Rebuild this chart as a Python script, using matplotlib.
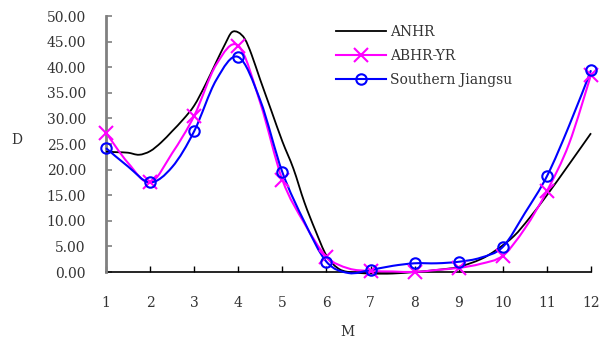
import matplotlib
matplotlib.use('Agg')
import matplotlib.pyplot as plt
from matplotlib.path import Path
from matplotlib.patches import PathPatch
from matplotlib.lines import Line2D
import numpy as np

# ---- data ----
months = [1, 2, 3, 4, 5, 6, 7, 8, 9, 10, 11, 12]
month_labels = [str(m) for m in months]
y_ticks = [0, 5, 10, 15, 20, 25, 30, 35, 40, 45, 50]

anhr_x = [1.0, 1.25, 1.5, 1.75, 2.0, 2.25, 2.5, 2.75, 3.0, 3.25, 3.5, 3.7, 3.85,
          4.0, 4.15, 4.3, 4.5, 4.75, 5.0, 5.25, 5.5, 5.75, 6.0, 6.25, 6.5, 7.0,
          7.5, 8.0, 8.5, 9.0, 9.5, 9.85, 10.25, 10.6, 11.0, 11.5, 12.0]
anhr_y = [23.5, 23.4, 23.3, 22.9, 23.6, 25.3, 27.5, 29.8, 32.5, 36.5, 41.0, 44.5, 46.8,
          46.8, 45.5, 42.5, 37.5, 31.5, 25.5, 20.2, 13.6, 8.1, 3.2, 0.8, 0.0, -0.3,
          -0.3, 0.0, 0.4, 1.0, 2.5, 4.3, 7.0, 10.5, 15.0, 21.0, 27.1]

half_months = [1, 1.5, 2, 2.5, 3, 3.5, 4, 4.5, 5, 5.5, 6, 6.5, 7, 7.5, 8, 8.5,
               9, 9.5, 10, 10.5, 11, 11.5, 12]
abhr_yr = [27.2, 21.3, 17.5, 23.2, 30.5, 40.5, 44.2, 33.0, 18.0, 9.5, 3.0, 0.7,
           0.2, 0.1, 0.0, 0.4, 0.8, 1.6, 3.2, 8.5, 15.8, 25.0, 38.5]
southern_jiangsu = [24.2, 20.6, 17.5, 20.5, 27.5, 37.5, 42.0, 33.5, 19.5, 9.8, 2.0, -0.2,
                    0.4, 1.2, 1.7, 1.7, 2.0, 2.8, 4.9, 11.5, 18.7, 28.5, 39.4]

# ---- helpers ----
def smooth_path(xs, ys):
    pts = np.column_stack([np.asarray(xs, float), np.asarray(ys, float)])
    n = len(pts)
    verts = [pts[0]]
    codes = [Path.MOVETO]
    for i in range(n - 1):
        p0 = pts[i - 1] if i > 0 else pts[i]
        p1 = pts[i]
        p2 = pts[i + 1]
        p3 = pts[i + 2] if i + 2 < n else pts[i + 1]
        c1 = p1 + (p2 - p0) / 6.0
        c2 = p2 - (p3 - p1) / 6.0
        verts += [c1, c2, p2]
        codes += [Path.CURVE4] * 3
    return Path(verts, codes)

FONT = 'DejaVu Serif'
TXT = '#333333'

fig = plt.figure(figsize=(6.03, 3.38), dpi=100)
ax = fig.add_axes([106 / 603, (338 - 272) / 338, (591 - 106) / 603, (272 - 16) / 338])

ax.add_patch(PathPatch(smooth_path(anhr_x, anhr_y), facecolor='none',
                       edgecolor='black', lw=1.3, zorder=3, clip_on=False))
ax.add_patch(PathPatch(smooth_path(half_months, abhr_yr), facecolor='none',
                       edgecolor='#FF00FF', lw=1.5, zorder=4, clip_on=False))
ax.add_patch(PathPatch(smooth_path(half_months, southern_jiangsu), facecolor='none',
                       edgecolor='#0000FF', lw=1.5, zorder=5, clip_on=False))

mag_m = [abhr_yr[half_months.index(m)] for m in months]
blu_m = [southern_jiangsu[half_months.index(m)] for m in months]
ax.plot(months, mag_m, linestyle='none', marker='x', ms=9.5, mew=1.5,
        color='#FF00FF', zorder=6, clip_on=False)
ax.plot(months, blu_m, linestyle='none', marker='o', ms=7.5, mew=1.5,
        mfc='none', color='#0000FF', zorder=7, clip_on=False)

ax.set_xlim(1, 12)
ax.set_ylim(0, 50)
ax.set_xticks(months)
ax.set_xticklabels(month_labels)
ax.set_yticks(y_ticks)
ax.set_yticklabels(['%.2f' % v for v in y_ticks])

for s in ['top', 'right']:
    ax.spines[s].set_visible(False)
ax.spines['left'].set_color('#808080')
ax.spines['left'].set_linewidth(2.0)
ax.spines['bottom'].set_color('black')
ax.spines['bottom'].set_linewidth(1.2)
ax.spines['bottom'].set_zorder(2)

ax.tick_params(axis='y', direction='in', length=4, width=1.2, color='#808080',
               pad=14.5, labelsize=10, labelcolor=TXT)
ax.tick_params(axis='x', direction='in', length=4, width=1.0, color='black',
               pad=17.5, labelsize=10, labelcolor=TXT)
for lab in ax.get_xticklabels() + ax.get_yticklabels():
    lab.set_fontfamily(FONT)

fig.text(17 / 603, 1 - 140 / 338, 'D', ha='center', va='center',
         fontsize=10, color=TXT, family=FONT)
fig.text(347 / 603, 1 - 332 / 338, 'M', ha='center', va='center',
         fontsize=10, color=TXT, family=FONT)

handles = [
    Line2D([], [], color='black', lw=1.3),
    Line2D([], [], color='#FF00FF', lw=1.5, marker='x', ms=9.5, mew=1.5),
    Line2D([], [], color='#0000FF', lw=1.5, marker='o', ms=7.5, mew=1.5, mfc='none'),
]
leg = ax.legend(handles, ['ANHR', 'ABHR-YR', 'Southern Jiangsu'],
                loc='upper left', bbox_to_anchor=(323 / 603, 1 - 12 / 338),
                bbox_transform=fig.transFigure, frameon=False,
                handlelength=3.6, handletextpad=0.35, labelspacing=0.75,
                prop={'family': FONT, 'size': 10})
for t in leg.get_texts():
    t.set_color(TXT)

fig.savefig('out.png', dpi=100)
